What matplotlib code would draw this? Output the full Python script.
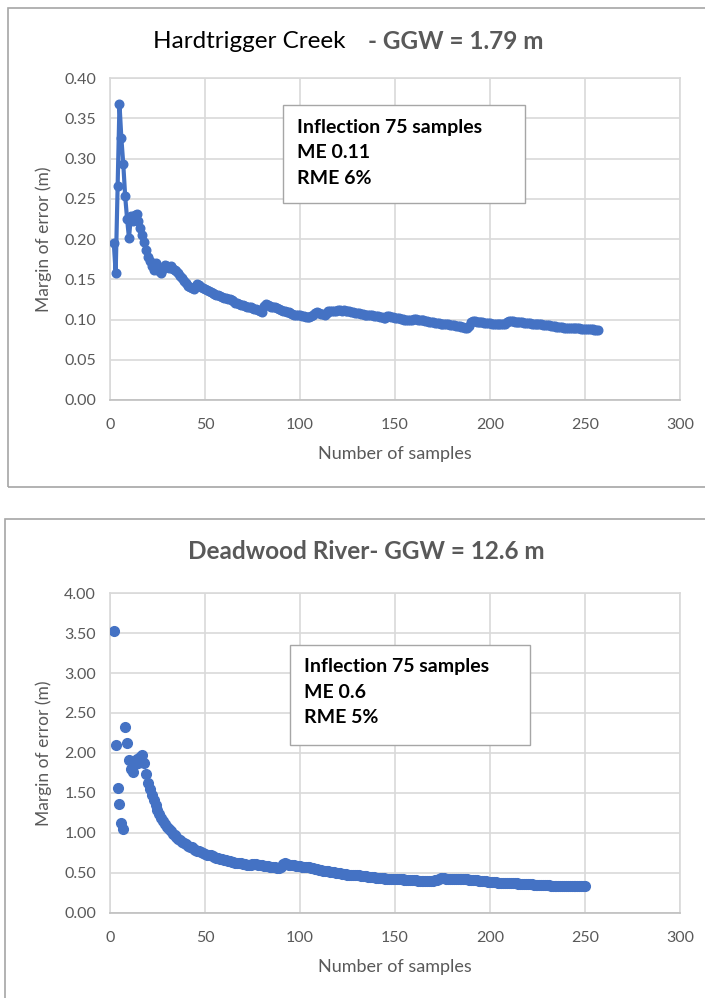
import matplotlib.pyplot as plt
from matplotlib.patches import Rectangle

plt.rcParams['font.family'] = ['Lato', 'DejaVu Sans']

# Hardtrigger Creek: margin of error (m) for 2..257 samples
hard_n = list(range(2, 258))
hard_me = [
    0.195, 0.158, 0.266, 0.368, 0.325, 0.293, 0.253, 0.225, 0.201,
    0.228, 0.222, 0.230, 0.231, 0.222, 0.214, 0.205, 0.196, 0.186, 0.178,
    0.173, 0.166, 0.162, 0.170, 0.165, 0.160, 0.158, 0.163, 0.168, 0.166,
    0.164, 0.166, 0.163, 0.161, 0.160, 0.158, 0.154, 0.151, 0.148, 0.145,
    0.142, 0.140, 0.139, 0.138, 0.140, 0.144, 0.143, 0.141, 0.139, 0.138,
    0.137, 0.136, 0.134, 0.133, 0.132, 0.131, 0.130, 0.129, 0.128, 0.127,
    0.127, 0.126, 0.125, 0.124, 0.123, 0.121, 0.120, 0.119, 0.118, 0.118,
    0.117, 0.116, 0.115, 0.115, 0.114, 0.113, 0.113, 0.112, 0.110, 0.109,
    0.117, 0.119, 0.118, 0.117, 0.116, 0.115, 0.115, 0.114, 0.113, 0.112,
    0.111, 0.110, 0.109, 0.109, 0.108, 0.107, 0.106, 0.106, 0.105, 0.105,
    0.104, 0.104, 0.103, 0.103, 0.103, 0.104, 0.106, 0.108, 0.109, 0.108,
    0.107, 0.107, 0.106, 0.108, 0.110, 0.111, 0.111, 0.110, 0.111, 0.112,
    0.112, 0.111, 0.112, 0.111, 0.110, 0.110, 0.109, 0.109, 0.108, 0.108,
    0.108, 0.107, 0.107, 0.106, 0.106, 0.106, 0.105, 0.105, 0.104, 0.104,
    0.104, 0.103, 0.103, 0.102, 0.102, 0.104, 0.104, 0.103, 0.103, 0.102,
    0.102, 0.102, 0.101, 0.101, 0.100, 0.100, 0.099, 0.099, 0.100, 0.101,
    0.101, 0.100, 0.100, 0.099, 0.099, 0.098, 0.098, 0.097, 0.097, 0.097,
    0.096, 0.096, 0.096, 0.095, 0.095, 0.094, 0.094, 0.094, 0.093, 0.093,
    0.093, 0.092, 0.092, 0.092, 0.091, 0.091, 0.090, 0.090, 0.092, 0.097,
    0.098, 0.098, 0.097, 0.097, 0.097, 0.097, 0.096, 0.096, 0.096, 0.096,
    0.095, 0.095, 0.095, 0.095, 0.094, 0.094, 0.094, 0.095, 0.097, 0.098,
    0.098, 0.098, 0.097, 0.097, 0.097, 0.097, 0.097, 0.096, 0.096, 0.096,
    0.096, 0.095, 0.095, 0.095, 0.094, 0.094, 0.094, 0.093, 0.093, 0.093,
    0.093, 0.092, 0.092, 0.092, 0.091, 0.091, 0.091, 0.091, 0.090, 0.090,
    0.090, 0.090, 0.089, 0.089, 0.089, 0.089, 0.089, 0.088, 0.088, 0.088,
    0.088, 0.088, 0.088, 0.088, 0.087, 0.087, 0.087,
]

# Deadwood River: margin of error (m) for 2..250 samples
dead_n = list(range(2, 251))
dead_me = [
    3.52, 2.10, 1.56, 1.36, 1.13, 1.05, 2.33, 2.12, 1.91,
    1.80, 1.76, 1.86, 1.92, 1.88, 1.95, 1.97, 1.87, 1.74, 1.62,
    1.55, 1.48, 1.41, 1.35, 1.29, 1.24, 1.19, 1.15, 1.11, 1.08,
    1.05, 1.02, 0.99, 0.97, 0.95, 0.93, 0.91, 0.89, 0.87, 0.86,
    0.84, 0.83, 0.82, 0.80, 0.79, 0.78, 0.77, 0.76, 0.75, 0.74,
    0.73, 0.72, 0.72, 0.71, 0.70, 0.69, 0.69, 0.68, 0.67, 0.66,
    0.66, 0.65, 0.65, 0.64, 0.64, 0.63, 0.63, 0.62, 0.62, 0.61,
    0.61, 0.60, 0.60, 0.60, 0.61, 0.61, 0.61, 0.60, 0.60, 0.60,
    0.59, 0.59, 0.59, 0.58, 0.58, 0.57, 0.57, 0.56, 0.56, 0.58,
    0.61, 0.62, 0.61, 0.60, 0.60, 0.60, 0.60, 0.59, 0.59, 0.59,
    0.58, 0.58, 0.58, 0.57, 0.57, 0.56, 0.56, 0.55, 0.55, 0.54,
    0.54, 0.53, 0.53, 0.52, 0.52, 0.51, 0.51, 0.51, 0.50, 0.50,
    0.50, 0.49, 0.49, 0.49, 0.48, 0.48, 0.48, 0.47, 0.47, 0.47,
    0.47, 0.46, 0.46, 0.46, 0.46, 0.45, 0.45, 0.45, 0.45, 0.44,
    0.44, 0.44, 0.44, 0.44, 0.43, 0.43, 0.43, 0.43, 0.43, 0.42,
    0.42, 0.42, 0.42, 0.42, 0.41, 0.41, 0.41, 0.41, 0.41, 0.41,
    0.41, 0.40, 0.40, 0.40, 0.40, 0.40, 0.40, 0.40, 0.40, 0.40,
    0.41, 0.41, 0.43, 0.44, 0.44, 0.44, 0.43, 0.43, 0.43, 0.43,
    0.43, 0.43, 0.43, 0.42, 0.42, 0.42, 0.42, 0.42, 0.41, 0.41,
    0.41, 0.41, 0.41, 0.40, 0.40, 0.40, 0.40, 0.40, 0.39, 0.39,
    0.39, 0.39, 0.39, 0.38, 0.38, 0.38, 0.38, 0.38, 0.37, 0.37,
    0.37, 0.37, 0.37, 0.37, 0.36, 0.36, 0.36, 0.36, 0.36, 0.36,
    0.36, 0.36, 0.35, 0.35, 0.35, 0.35, 0.35, 0.35, 0.35, 0.35,
    0.35, 0.34, 0.34, 0.34, 0.34, 0.34, 0.34, 0.34, 0.34, 0.34,
    0.34, 0.34, 0.34, 0.34, 0.34, 0.34, 0.34, 0.34, 0.34, 0.34,
]

x_ticks = [0, 50, 100, 150, 200, 250, 300]
hard_yticks = [0.00, 0.05, 0.10, 0.15, 0.20, 0.25, 0.30, 0.35, 0.40]
dead_yticks = [0.00, 0.50, 1.00, 1.50, 2.00, 2.50, 3.00, 3.50, 4.00]

blue = "#4472c4"
grid = "#d9d9d9"
tick_gray = "#595959"
frame_gray = "#a6a6a6"

fig = plt.figure(figsize=(7.05, 9.98), dpi=100)

# chart frames
fig.patches.append(Rectangle((0.0113, 0.512), 1.0, 0.480, transform=fig.transFigure,
                             fill=False, edgecolor=frame_gray, lw=1.2))
fig.patches.append(Rectangle((0.0071, -0.01), 1.0, 0.490, transform=fig.transFigure,
                             fill=False, edgecolor=frame_gray, lw=1.2))

ax1 = fig.add_axes([0.156, 0.5992, 0.8085, 0.3226])
ax2 = fig.add_axes([0.156, 0.0852, 0.8085, 0.3206])


def style(ax, yticks, fmt):
    ax.set_xlim(0, 300)
    ax.set_ylim(yticks[0], yticks[-1])
    ax.set_xticks(x_ticks)
    ax.set_yticks(yticks)
    ax.set_yticklabels([fmt.format(v) for v in yticks])
    ax.grid(True, color=grid, lw=1.2)
    ax.set_axisbelow(True)
    for s in ax.spines.values():
        s.set_color(grid)
        s.set_linewidth(1.2)
    ax.spines['bottom'].set_color("#bfbfbf")
    ax.tick_params(length=0, labelsize=11.5, labelcolor=tick_gray, pad=10)
    ax.tick_params(axis='x', pad=13)
    ax.set_xlabel("Number of samples", fontsize=13, color=tick_gray, labelpad=10)
    ax.set_ylabel("Margin of error (m)", fontsize=12.5, color=tick_gray, labelpad=9)


ax1.plot(hard_n, hard_me, "o-", color=blue, lw=3, ms=6.2, zorder=3)
style(ax1, hard_yticks, "{:.2f}")

ax2.plot(dead_n, dead_me, "o", color=blue, ms=7, zorder=3)
style(ax2, dead_yticks, "{:.2f}")

# titles
fig.text(0.217, 0.958, "Hardtrigger Creek", fontsize=17.5, color="black", va="center")
fig.text(0.522, 0.958, "- GGW = 1.79 m", fontsize=17.5, color=tick_gray,
         fontweight="bold", va="center")
fig.text(0.520, 0.447, "Deadwood River- GGW = 12.6 m", fontsize=17.5, color=tick_gray,
         fontweight="bold", va="center", ha="center")

# annotation boxes
fig.patches.append(Rectangle((0.401, 0.7966), 0.344, 0.0982, transform=fig.transFigure,
                             facecolor="white", edgecolor=frame_gray, lw=1.0, zorder=5))
for y, s in zip([0.8727, 0.8467, 0.8216], ["Inflection 75 samples", "ME 0.11", "RME 6%"]):
    fig.text(0.421, y, s, fontsize=14, fontweight="bold", color="black", va="center", zorder=6)

fig.patches.append(Rectangle((0.411, 0.2535), 0.341, 0.1002, transform=fig.transFigure,
                             facecolor="white", edgecolor=frame_gray, lw=1.0, zorder=5))
for y, s in zip([0.3317, 0.3066, 0.2806], ["Inflection 75 samples", "ME 0.6", "RME 5%"]):
    fig.text(0.431, y, s, fontsize=14, fontweight="bold", color="black", va="center", zorder=6)

plt.savefig("out.png", dpi=100)
